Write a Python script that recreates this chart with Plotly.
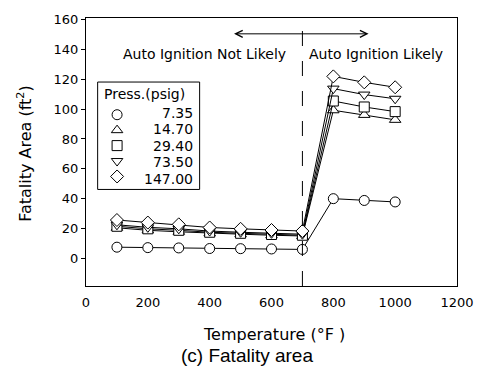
import plotly.graph_objects as go

temps = [100, 200, 300, 400, 500, 600, 700, 800, 900, 1000]
pressures = ["7.35", "14.70", "29.40", "73.50", "147.00"]
area_7_35 = [7.5, 7.2, 7.0, 6.6, 6.5, 6.3, 6.0, 40.0, 38.8, 37.8]
area_14_70 = [20.5, 18.8, 17.8, 16.8, 16.2, 15.5, 15.0, 99.2, 96.1, 92.8]
area_29_40 = [21.5, 19.8, 18.8, 17.5, 16.8, 16.0, 15.5, 105.4, 101.4, 98.3]
area_73_50 = [22.5, 20.8, 19.8, 18.3, 17.5, 16.8, 16.2, 113.7, 109.7, 106.9]
area_147_00 = [25.7, 24.0, 22.8, 20.7, 19.8, 19.0, 18.3, 121.9, 117.9, 114.6]
series = [area_7_35, area_14_70, area_29_40, area_73_50, area_147_00]
symbols = ["circle", "triangle-up", "square", "triangle-down", "diamond"]
x_ticks = [0, 200, 400, 600, 800, 1000, 1200]
y_ticks = [0, 20, 40, 60, 80, 100, 120, 140, 160]
boundary_temp = 700

FONT = "DejaVu Sans, Liberation Sans, Arial, sans-serif"
W, H = 486, 378
L, R, T, B = 86, 18, 14, 92
pw, ph = W - L - R, H - T - B

def px_x(px):
    return (px - L) / pw

def px_y(py):
    return (H - B - py) / ph

fig = go.Figure()

for name, vals, sym in zip(pressures, series, symbols):
    fig.add_trace(go.Scatter(
        x=temps, y=vals, name=name, mode="lines+markers", showlegend=False,
        line=dict(color="black", width=1),
        marker=dict(symbol=sym, size=10, color="white",
                    line=dict(color="black", width=1)),
    ))

# legend box frame
fig.add_shape(type="rect", xref="paper", yref="paper",
              x0=px_x(98), x1=px_x(203), y0=px_y(188), y1=px_y(79),
              line=dict(color="black", width=1), fillcolor="white", layer="below")

# legend symbols: one marker per pressure category on a hidden overlay axis
row_h = 16.75
fig.add_trace(go.Scatter(
    x=["key"] * len(pressures), y=pressures, mode="markers", showlegend=False,
    xaxis="x2", yaxis="y2", hoverinfo="skip",
    marker=dict(symbol=symbols, size=10, color="white", line=dict(color="black", width=1)),
))

fig.add_shape(type="line", x0=boundary_temp, x1=boundary_temp, y0=0, y1=1,
              xref="x", yref="paper", line=dict(color="black", width=1, dash="longdash"))

# double-headed arrow
fig.add_annotation(x=914, y=150.4, ax=474, ay=150.4, xref="x", yref="y", axref="x", ayref="y",
                   text="", showarrow=True, arrowhead=5, startarrowhead=5, arrowside="end+start",
                   arrowsize=1.4, startarrowsize=1.4, arrowwidth=1, arrowcolor="black")
fig.add_annotation(x=384, y=136.8, xref="x", yref="y", text="Auto Ignition Not Likely",
                   showarrow=False, font=dict(family=FONT, size=14, color="black"))
fig.add_annotation(x=938, y=136.8, xref="x", yref="y", text="Auto Ignition Likely",
                   showarrow=False, font=dict(family=FONT, size=14, color="black"))

# axis titles and caption
fig.add_annotation(x=px_x(23), y=px_y(152), xref="paper", yref="paper",
                   xanchor="center", yanchor="middle",
                   text="Fatality Area (ft<sup>2</sup>)", textangle=-90, showarrow=False,
                   font=dict(family=FONT, size=16, color="black"))
fig.add_annotation(x=px_x(280), y=px_y(335), xref="paper", yref="paper",
                   xanchor="center", yanchor="middle",
                   text="Temperature (°F )", showarrow=False,
                   font=dict(family=FONT, size=16, color="black"))
fig.add_annotation(x=px_x(252), y=px_y(357), xref="paper", yref="paper",
                   xanchor="center", yanchor="middle",
                   text="(c) Fatality area", showarrow=False,
                   font=dict(family="Liberation Sans, Arial, sans-serif", size=19, color="black"))

# legend texts
fig.add_annotation(x=px_x(102), y=px_y(91), xref="paper", yref="paper",
                   xanchor="left", yanchor="middle", text="Press.(psig)", showarrow=False,
                   font=dict(family=FONT, size=14, color="black"))
first_row = 110
for i, label in enumerate(pressures):
    fig.add_annotation(x=px_x(198), y=px_y(first_row + i * row_h), xref="paper", yref="paper",
                       xanchor="right", yanchor="middle", text=label, showarrow=False,
                       font=dict(family=FONT, size=14, color="black"))

fig.update_layout(
    width=W, height=H, margin=dict(l=L, r=R, t=T, b=B),
    paper_bgcolor="white", plot_bgcolor="white",
    font=dict(family=FONT, size=13, color="black"),
    showlegend=False,
    xaxis=dict(range=[0, 1200], tickvals=x_ticks, showgrid=False, zeroline=False,
               showline=True, linecolor="black", linewidth=1, mirror=True,
               ticks="", ticklabelstandoff=4, tickfont=dict(size=13)),
    yaxis=dict(range=[-18.5, 161], tickvals=y_ticks, showgrid=False, zeroline=False,
               showline=True, linecolor="black", linewidth=1, mirror=True,
               ticks="outside", ticklen=4, tickcolor="black", tickfont=dict(size=13)),
    xaxis2=dict(domain=[px_x(110), px_x(126)], anchor="y2", visible=False,
                type="category", fixedrange=True),
    yaxis2=dict(domain=[px_y(first_row + 4.5 * row_h), px_y(first_row - 0.5 * row_h)],
                anchor="x2", visible=False, type="category", categoryarray=pressures,
                categoryorder="array", autorange="reversed", fixedrange=True),
)

fig.write_html("out.html")
